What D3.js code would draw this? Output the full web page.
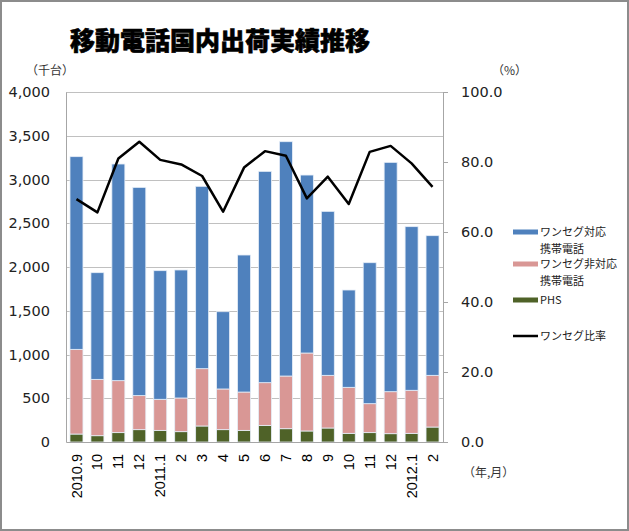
<!DOCTYPE html>
<html>
<head>
<meta charset="utf-8">
<script src="https://cdn.jsdelivr.net/npm/d3@7"></script>
<style>
  body { margin: 0; background: #fff; }
  svg { display: block; }
</style>
</head>
<body>
<div id="chart"></div>
<script>
// months shown on the x axis
const months = ["2010.9", "10", "11", "12", "2011.1", "2", "3", "4", "5", "6", "7", "8", "9", "10", "11", "12", "2012.1", "2"];
// shipments in thousand units
const phs = [91, 72, 107, 141, 133, 118, 183, 141, 133, 190, 152, 126, 160, 99, 107, 95, 99, 171];
const nonOneseg = [968, 644, 594, 389, 355, 385, 655, 465, 438, 488, 602, 891, 602, 526, 331, 480, 492, 591];
const oneseg = [2202, 1219, 2476, 2380, 1470, 1463, 2084, 883, 1566, 2415, 2678, 2034, 1874, 1112, 1611, 2621, 1870, 1596];
// one-seg ratio (%)
const ratio = [69.4, 65.6, 81.0, 85.8, 80.6, 79.3, 76.0, 65.8, 78.4, 83.1, 81.8, 69.6, 75.8, 68.0, 82.9, 84.6, 79.6, 72.9];
const leftTicks = [0, 500, 1000, 1500, 2000, 2500, 3000, 3500, 4000];
const rightTicks = [0, 20, 40, 60, 80, 100];

const seriesNames = ["ワンセグ対応\n携帯電話", "ワンセグ非対応\n携帯電話", "PHS"];
const lineName = "ワンセグ比率";

const width = 629;
const height = 531;
const plot = { left: 66, right: 443, top: 92, bottom: 442 };

const colors = { oneseg: "#4f81bd", non: "#d99795", phs: "#4f6228" };
const font = "'DejaVu Sans', Verdana, sans-serif";
const fontX = "'Liberation Sans', Arial, sans-serif";
const fontJP = "'Noto Sans CJK JP', sans-serif";

const rows = months.map((m, i) => ({
  month: m,
  idx: i,
  phs: phs[i],
  non: nonOneseg[i],
  oneseg: oneseg[i],
}));

const stack = d3.stack().keys(["phs", "non", "oneseg"])(rows);

const svg = d3
  .select("#chart")
  .append("svg")
  .attr("width", width)
  .attr("height", height);

// frame
svg
  .append("rect")
  .attr("x", 1)
  .attr("y", 1)
  .attr("width", width - 2)
  .attr("height", height - 2)
  .attr("fill", "#fff")
  .attr("stroke", "#8c8c8c")
  .attr("stroke-width", 2);

const x = d3
  .scaleBand()
  .domain(d3.range(months.length))
  .range([plot.left, plot.right])
  .paddingInner(0.38)
  .paddingOuter(0.19);

const y = d3.scaleLinear().domain([0, 4000]).range([plot.bottom, plot.top]);
const y2 = d3.scaleLinear().domain([0, 100]).range([plot.bottom, plot.top]);

// gridlines
svg
  .append("g")
  .selectAll("line")
  .data(leftTicks.slice(1))
  .enter()
  .append("line")
  .attr("x1", plot.left)
  .attr("x2", plot.right)
  .attr("y1", (d) => Math.round(y(d)) + 0.5)
  .attr("y2", (d) => Math.round(y(d)) + 0.5)
  .attr("stroke", "#c0c0c0")
  .attr("stroke-width", 1);

// bars
const colorKey = { phs: colors.phs, non: colors.non, oneseg: colors.oneseg };
svg
  .append("g")
  .selectAll("g")
  .data(stack)
  .enter()
  .append("g")
  .attr("fill", (s) => colorKey[s.key])
  .selectAll("rect")
  .data((s) => s)
  .enter()
  .append("rect")
  .attr("x", (d) => x(d.data.idx))
  .attr("width", x.bandwidth())
  .attr("y", (d) => y(d[1]))
  .attr("height", (d) => y(d[0]) - y(d[1]))
  .attr("stroke", "#e6eef8")
  .attr("stroke-width", 0.8);

// axes
const yAxis = d3
  .axisLeft(y)
  .tickValues(leftTicks)
  .tickSize(0)
  .tickPadding(16)
  .tickFormat(d3.format(","));
const gy = svg
  .append("g")
  .attr("transform", `translate(${plot.left},0)`)
  .call(yAxis);
gy.select(".domain").attr("stroke", "#a6a6a6");
gy.selectAll("text")
  .attr("font-family", font)
  .attr("font-size", 14.5)
  .attr("fill", "#222");

const y2Axis = d3
  .axisRight(y2)
  .tickValues(rightTicks)
  .tickSize(5)
  .tickPadding(13)
  .tickFormat(d3.format(".1f"));
const gy2 = svg
  .append("g")
  .attr("transform", `translate(${plot.right},0)`)
  .call(y2Axis);
gy2.select(".domain").attr("stroke", "#a6a6a6");
gy2.selectAll("line").attr("stroke", "#a6a6a6");
gy2.selectAll("text")
  .attr("font-family", font)
  .attr("font-size", 14.5)
  .attr("fill", "#222");

const xAxis = d3.axisBottom(x).tickSize(0).tickFormat((i) => months[i]);
const gx = svg
  .append("g")
  .attr("transform", `translate(0,${plot.bottom})`)
  .call(xAxis);
gx.select(".domain").attr("stroke", "#a6a6a6");
gx.selectAll("text")
  .attr("font-family", fontX)
  .attr("font-size", 14.5)
  .attr("fill", "#000")
  .attr("text-anchor", "end")
  .attr("dy", "0.35em")
  .attr("dx", 0)
  .attr("y", 0)
  .attr("transform", "translate(0,12) rotate(-90)");

// ratio line
const line = d3
  .line()
  .x((d, i) => x(i) + x.bandwidth() / 2)
  .y((d) => y2(d));
svg
  .append("path")
  .datum(ratio)
  .attr("fill", "none")
  .attr("stroke", "#000")
  .attr("stroke-width", 2.5)
  .attr("stroke-linejoin", "round")
  .attr("d", line);

// title and unit labels
svg
  .append("text")
  .attr("x", 220)
  .attr("y", 50)
  .attr("text-anchor", "middle")
  .attr("font-family", fontJP)
  .attr("font-weight", 900)
  .attr("font-size", 25)
  .attr("stroke", "#000")
  .attr("stroke-width", 0.6)
  .attr("fill", "#000")
  .text("移動電話国内出荷実績推移");

const unitStyle = (t) =>
  t
    .attr("font-family", fontJP)
    .attr("font-size", 12)
    .attr("fill", "#333");

svg.append("text").attr("x", 26).attr("y", 75).text("（千台）").call(unitStyle);
svg.append("text").attr("x", 492).attr("y", 75).text("（%）").call(unitStyle);
svg.append("text").attr("x", 381 + 82).attr("y", 477).text("（年,月）").call(unitStyle);

// legend
const legend = svg.append("g").attr("transform", "translate(513,0)");
const legendRows = [
  { name: seriesNames[0], color: colors.oneseg, y: 232 },
  { name: seriesNames[1], color: colors.non, y: 264 },
  { name: seriesNames[2], color: colors.phs, y: 300 },
];
legendRows.forEach((r) => {
  legend
    .append("rect")
    .attr("x", 0)
    .attr("y", r.y - 2.5)
    .attr("width", 25)
    .attr("height", 5)
    .attr("fill", r.color);
  const t = legend
    .append("text")
    .attr("x", 27)
    .attr("y", r.y + 4)
    .attr("font-family", fontJP)
    .attr("font-size", 11)
    .attr("fill", "#222");
  r.name.split("\n").forEach((part, k) => {
    t.append("tspan").attr("x", 27).attr("dy", k === 0 ? 0 : 17).text(part);
  });
});
legend
  .append("line")
  .attr("x1", 0)
  .attr("x2", 25)
  .attr("y1", 336)
  .attr("y2", 336)
  .attr("stroke", "#000")
  .attr("stroke-width", 2.5);
legend
  .append("text")
  .attr("x", 27)
  .attr("y", 340)
  .attr("font-family", fontJP)
  .attr("font-size", 11)
  .attr("fill", "#222")
  .text(lineName);
</script>
</body>
</html>
